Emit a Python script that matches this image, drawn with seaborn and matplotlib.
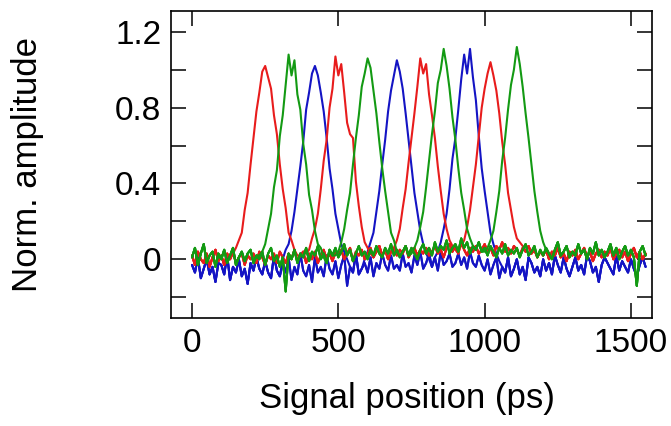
import numpy as np
import pandas as pd
import seaborn as sns
from matplotlib import pyplot as plt

# Signal position grid (ps), 10 ps steps.
positions = np.arange(0, 1551, 10)

# Baseline noise, one list per colour (156 points each).
baseline_red = [
    0.02, -0.03, 0.04, 0.00, -0.02, 0.03, -0.04, 0.01, 0.05, -0.01,
    0.02, -0.03, 0.03, 0.00, 0.04, -0.02, 0.01, 0.03, -0.03, 0.02,
    0.00, 0.03, -0.02, 0.04, 0.01, -0.03, 0.02, 0.00, 0.03, -0.02,
    0.04, 0.01, -0.02, 0.03, 0.00, 0.05, -0.01, 0.02, 0.04, -0.02,
    0.03, 0.00, 0.04, -0.02, 0.02, 0.05, 0.00, 0.03, -0.01, 0.04,
    0.02, 0.05, 0.00, 0.03, 0.06, -0.01, 0.04, 0.02, 0.05, 0.00,
    0.03, 0.06, 0.01, 0.04, 0.07, 0.02, 0.05, 0.00, 0.04, 0.06,
    0.02, 0.05, 0.03, 0.07, 0.01, 0.04, 0.06, 0.02, 0.05, 0.03,
    0.06, 0.02, 0.04, 0.07, 0.03, 0.05, 0.01, 0.06, 0.08, 0.04,
    0.07, 0.03, 0.09, 0.05, 0.02, 0.06, 0.04, 0.07, 0.03, 0.05,
    0.08, 0.04, 0.06, 0.02, 0.07, 0.05, 0.09, 0.04, 0.06, 0.03,
    0.07, 0.05, 0.02, 0.06, 0.04, 0.07, 0.03, 0.05, 0.01, 0.04,
    0.02, 0.05, 0.00, 0.04, 0.02, 0.06, 0.01, 0.03, -0.01, 0.04,
    0.02, 0.05, 0.00, 0.03, 0.06, 0.01, 0.04, -0.01, 0.03, 0.05,
    0.01, 0.04, 0.02, 0.06, 0.00, 0.03, 0.05, 0.01, 0.04, -0.01,
    0.03, 0.06, 0.01, 0.04, 0.00, 0.03,
]
baseline_green = [
    0.01, 0.06, -0.03, 0.03, 0.08, -0.02, 0.02, 0.04, -0.04, 0.03,
    0.00, 0.05, -0.02, 0.02, 0.06, -0.03, 0.01, 0.04, -0.01, 0.03,
    0.05, -0.02, 0.02, 0.00, 0.04, -0.03, 0.03, 0.06, -0.01, 0.02,
    -0.04, 0.01, -0.17, 0.03, 0.00, 0.05, -0.02, 0.03, 0.01, 0.06,
    -0.01, 0.04, 0.02, 0.07, 0.00, 0.03, -0.02, 0.05, 0.02, 0.06,
    0.01, 0.04, 0.08, 0.02, 0.05, -0.01, 0.03, 0.07, 0.02, 0.04,
    0.00, 0.05, 0.02, 0.07, 0.03, 0.01, 0.06, 0.03, 0.08, 0.02,
    0.05, 0.01, 0.04, 0.07, 0.02, 0.06, 0.03, 0.00, 0.05, 0.08,
    0.03, 0.06, 0.02, 0.09, 0.04, 0.07, 0.05, 0.10, 0.03, 0.06,
    0.08, 0.04, 0.11, 0.06, 0.09, 0.03, 0.07, 0.05, 0.09, 0.04,
    0.06, 0.02, 0.07, 0.04, 0.01, 0.06, 0.03, 0.08, 0.02, 0.05,
    0.03, 0.06, 0.01, 0.05, 0.08, 0.02, 0.04, 0.07, 0.01, 0.05,
    0.02, 0.06, 0.03, 0.00, 0.05, 0.09, 0.02, 0.04, 0.07, 0.01,
    0.04, 0.02, 0.08, 0.03, 0.05, 0.00, 0.06, 0.03, 0.09, 0.02,
    0.05, 0.01, 0.04, 0.08, 0.02, 0.06, 0.00, 0.04, 0.07, 0.02,
    0.05, 0.01, -0.14, 0.04, 0.07, 0.02,
]
baseline_blue = [
    -0.03, -0.07, 0.01, -0.10, -0.05, 0.00, -0.08, -0.04, -0.12, -0.02,
    -0.03, -0.08, 0.02, -0.11, -0.04, -0.07, 0.00, -0.09, -0.05, -0.13,
    -0.02, -0.06, 0.01, -0.05, -0.08, -0.01, -0.07, -0.10, 0.02, -0.06,
    -0.09, -0.02, -0.07, 0.01, -0.11, -0.04, -0.08, 0.03, -0.06, -0.09,
    -0.03, -0.12, 0.01, -0.07, -0.04, -0.09, 0.02, -0.05, -0.08, -0.01,
    -0.10, -0.03, 0.02, -0.14, -0.04, -0.07, 0.03, -0.08, -0.05, -0.02,
    -0.07, 0.01, -0.09, -0.02, -0.05, 0.03, -0.03, -0.06, 0.02, -0.05,
    -0.03, -0.06, 0.03, -0.04, -0.02, -0.07, 0.02, -0.03, 0.04, -0.05,
    -0.02, 0.03, -0.04, 0.01, -0.06, 0.04, -0.03, -0.01, 0.03, -0.04,
    -0.02, 0.03, -0.03, 0.01, -0.05, 0.04, -0.02, -0.04, 0.02, -0.03,
    -0.06, 0.00, -0.08, -0.03, 0.01, -0.10, -0.04, -0.07, 0.01, -0.09,
    -0.05, 0.00, -0.08, -0.04, -0.11, 0.01, -0.02, -0.07, -0.04, -0.09,
    0.00, -0.06, -0.02, -0.08, 0.02, -0.03, -0.07, 0.01, -0.05, -0.09,
    -0.04, 0.01, -0.06, -0.03, -0.08, 0.02, -0.01, -0.07, -0.04, -0.12,
    -0.03, 0.01, -0.02, -0.05, -0.08, 0.02, -0.06, -0.01, -0.04, -0.07,
    0.00, -0.05, -0.09, -0.03, 0.01, -0.04,
]

# Pulses: colour, centre (ps) and amplitude from -110 to +110 ps around it.
pulse_colors = ["red", "green", "blue", "red", "green", "blue",
                "red", "green", "blue", "red", "green"]
pulse_centers = [250, 340, 420, 500, 600, 700, 790, 860, 940, 1020, 1110]
pulse_values = [
    [0.03, 0.06, 0.10, 0.14, 0.26, 0.35, 0.50, 0.64, 0.78, 0.88, 0.99, 1.02,
     0.96, 0.90, 0.76, 0.66, 0.50, 0.37, 0.27, 0.14, 0.10, 0.05, 0.02],
    [0.02, 0.04, 0.08, 0.16, 0.24, 0.38, 0.47, 0.65, 0.76, 0.92, 1.08, 0.97,
     1.05, 0.87, 0.79, 0.61, 0.50, 0.34, 0.26, 0.15, 0.08, 0.06, 0.01],
    [0.00, 0.05, 0.08, 0.15, 0.25, 0.37, 0.49, 0.62, 0.79, 0.88, 0.98, 1.02,
     0.97, 0.88, 0.78, 0.64, 0.48, 0.37, 0.24, 0.16, 0.08, 0.04, 0.00],
    [0.03, 0.05, 0.11, 0.16, 0.24, 0.37, 0.52, 0.63, 0.80, 0.90, 1.07, 0.97,
     1.03, 0.88, 0.72, 0.66, 0.64, 0.41, 0.28, 0.17, 0.09, 0.06, 0.03],
    [0.02, 0.04, 0.09, 0.16, 0.26, 0.35, 0.50, 0.64, 0.76, 0.91, 0.98, 1.06,
     1.01, 0.89, 0.77, 0.62, 0.48, 0.36, 0.25, 0.14, 0.10, 0.04, 0.02],
    [0.00, 0.04, 0.09, 0.14, 0.25, 0.36, 0.50, 0.63, 0.78, 0.89, 0.97, 1.05,
     0.99, 0.90, 0.77, 0.63, 0.49, 0.35, 0.25, 0.15, 0.08, 0.03, 0.00],
    [0.04, 0.06, 0.10, 0.16, 0.27, 0.37, 0.51, 0.64, 0.77, 0.91, 1.06, 0.98,
     1.03, 0.87, 0.76, 0.64, 0.49, 0.36, 0.24, 0.16, 0.10, 0.07, 0.05],
    [0.03, 0.06, 0.10, 0.17, 0.25, 0.38, 0.52, 0.66, 0.78, 0.93, 1.00, 1.11,
     1.02, 0.90, 0.75, 0.63, 0.48, 0.35, 0.26, 0.16, 0.11, 0.07, 0.05],
    [0.01, 0.04, 0.09, 0.16, 0.24, 0.37, 0.53, 0.64, 0.79, 0.95, 1.08, 0.98,
     1.11, 0.96, 0.84, 0.65, 0.48, 0.36, 0.25, 0.14, 0.08, 0.03, -0.01],
    [0.05, 0.07, 0.10, 0.17, 0.26, 0.38, 0.50, 0.65, 0.80, 0.90, 0.98, 1.04,
     0.97, 0.89, 0.77, 0.62, 0.50, 0.35, 0.26, 0.17, 0.11, 0.09, 0.07],
    [0.04, 0.06, 0.10, 0.15, 0.25, 0.36, 0.52, 0.64, 0.79, 0.92, 1.00, 1.12,
     1.03, 0.91, 0.77, 0.64, 0.50, 0.36, 0.25, 0.15, 0.09, 0.05, 0.03],
]

x_ticks = [0, 500, 1000, 1500]
y_ticks = [-0.2, 0, 0.2, 0.4, 0.6, 0.8, 1.0, 1.2]
y_tick_labels = ["", "0", "", "0.4", "", "0.8", "", "1.2"]

colors = {"red": "#e81c1c", "green": "#139a13", "blue": "#1414c4"}
baselines = {"red": baseline_red, "green": baseline_green, "blue": baseline_blue}

# Build one trace per pulse: colour baseline with the pulse window on top.
frames = []
for i, (col, centre, vals) in enumerate(zip(pulse_colors, pulse_centers, pulse_values)):
    amp = np.array(baselines[col], dtype=float)
    start = centre // 10 - 11
    amp[start:start + len(vals)] = vals
    frames.append(pd.DataFrame({"pos": positions, "amp": amp,
                                "trace": f"{col}{i}", "color": col}))
data = pd.concat(frames, ignore_index=True)

# draw blue first, green last (green sits on top in the picture)
order = ([t for t in data.trace.unique() if t.startswith("blue")]
         + [t for t in data.trace.unique() if t.startswith("red")]
         + [t for t in data.trace.unique() if t.startswith("green")])
palette = {t: colors[t.rstrip("0123456789")] for t in order}

sns.set_style("white")
plt.rcParams["font.family"] = ["Liberation Sans", "DejaVu Sans"]
plt.rcParams["text.color"] = "black"
plt.rcParams["axes.labelcolor"] = "black"

fig = plt.figure(figsize=(6.71, 4.26), dpi=100)
ax = fig.add_axes([0.2548, 0.2535, 0.7169, 0.7207])

sns.lineplot(data=data, x="pos", y="amp", hue="trace", hue_order=order,
             palette=palette, estimator=None, legend=False, linewidth=1.5, ax=ax)

ax.set_xlim(-72, 1572)
ax.set_ylim(-0.31, 1.31)
ax.set_xticks(x_ticks)
ax.set_xticklabels([str(t) for t in x_ticks])
ax.set_yticks(y_ticks)
ax.set_yticklabels(y_tick_labels)

ax.tick_params(direction="in", length=11, width=1.1, bottom=True, left=True,
               top=True, right=True, labelsize=24, pad=7, colors="black")
for sp in ax.spines.values():
    sp.set_visible(True)
    sp.set_color("black")
    sp.set_linewidth(1.2)

ax.set_xlabel("Signal position (ps)", fontsize=25)
ax.set_ylabel("Norm. amplitude", fontsize=25)
ax.xaxis.set_label_coords(0.49, -0.21)
ax.yaxis.set_label_coords(-0.264, 0.5)

fig.savefig("out.png", dpi=100)
